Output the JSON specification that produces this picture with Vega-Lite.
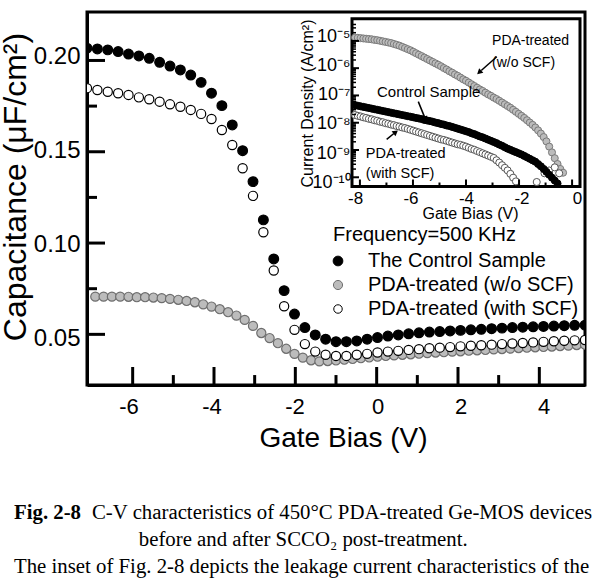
{
  "$schema": "https://vega.github.io/schema/vega-lite/v6.json",
  "width": 498,
  "height": 373,
  "autosize": {"type": "none"},
  "padding": {"left": 87, "top": 12, "right": 8, "bottom": 200},
  "background": "white",
  "config": {
    "view": {"stroke": "black", "strokeWidth": 3},
    "font": "Liberation Sans"
  },
  "title": {
    "text": "Fig. 2-8",
    "subtitle": [
      "\u200b\u00a0\u00a0\u00a0\u00a0\u00a0\u00a0\u00a0\u00a0\u00a0\u00a0\u00a0\u00a0\u00a0\u00a0\u00a0C-V characteristics of 450°C PDA-treated Ge-MOS devices",
      "\u200b\u00a0\u00a0\u00a0\u00a0\u00a0\u00a0\u00a0\u00a0\u00a0\u00a0\u00a0\u00a0\u00a0\u00a0\u00a0\u00a0\u00a0\u00a0\u00a0\u00a0\u00a0\u00a0\u00a0\u00a0before and after SCCO₂ post-treatment.",
      "The inset of Fig. 2-8 depicts the leakage current characteristics of the"
    ],
    "orient": "bottom", "anchor": "start", "frame": "group", "dx": -73, "offset": 51,
    "font": "Liberation Serif", "fontSize": 20.8, "fontWeight": "bold", "color": "black",
    "subtitleFont": "Liberation Serif", "subtitleFontSize": 20.8, "subtitleFontWeight": "normal",
    "subtitleColor": "black", "subtitleLineHeight": 27, "subtitlePadding": -21
  },
  "datasets": {
    "ticksV": [
      {"V": -6, "major": true}, {"V": -5, "major": false}, {"V": -4, "major": true}, {"V": -3, "major": false},
      {"V": -2, "major": true}, {"V": -1, "major": false}, {"V": 0, "major": true}, {"V": 1, "major": false},
      {"V": 2, "major": true}, {"V": 3, "major": false}, {"V": 4, "major": true}
    ],
    "ticksC": [
      {"C": 0.05, "major": true}, {"C": 0.075, "major": false}, {"C": 0.1, "major": true}, {"C": 0.125, "major": false},
      {"C": 0.15, "major": true}, {"C": 0.175, "major": false}, {"C": 0.2, "major": true}
    ],
    "ticksVi": [
      {"V": -8, "major": true}, {"V": -7, "major": false}, {"V": -6, "major": true}, {"V": -5, "major": false},
      {"V": -4, "major": true}, {"V": -3, "major": false}, {"V": -2, "major": true}, {"V": -1, "major": false}, {"V": 0, "major": true}
    ],
    "ticksJ": [
      {"J": 1e-10, "major": true}, {"J": 2e-10, "major": false}, {"J": 3e-10, "major": false}, {"J": 4e-10, "major": false}, {"J": 5e-10, "major": false}, {"J": 6e-10, "major": false}, {"J": 7e-10, "major": false}, {"J": 8e-10, "major": false}, {"J": 9e-10, "major": false},
      {"J": 1e-9, "major": true}, {"J": 2e-9, "major": false}, {"J": 3e-9, "major": false}, {"J": 4e-9, "major": false}, {"J": 5e-9, "major": false}, {"J": 6e-9, "major": false}, {"J": 7e-9, "major": false}, {"J": 8e-9, "major": false}, {"J": 9e-9, "major": false},
      {"J": 1e-8, "major": true}, {"J": 2e-8, "major": false}, {"J": 3e-8, "major": false}, {"J": 4e-8, "major": false}, {"J": 5e-8, "major": false}, {"J": 6e-8, "major": false}, {"J": 7e-8, "major": false}, {"J": 8e-8, "major": false}, {"J": 9e-8, "major": false},
      {"J": 1e-7, "major": true}, {"J": 2e-7, "major": false}, {"J": 3e-7, "major": false}, {"J": 4e-7, "major": false}, {"J": 5e-7, "major": false}, {"J": 6e-7, "major": false}, {"J": 7e-7, "major": false}, {"J": 8e-7, "major": false}, {"J": 9e-7, "major": false},
      {"J": 1e-6, "major": true}, {"J": 2e-6, "major": false}, {"J": 3e-6, "major": false}, {"J": 4e-6, "major": false}, {"J": 5e-6, "major": false}, {"J": 6e-6, "major": false}, {"J": 7e-6, "major": false}, {"J": 8e-6, "major": false}, {"J": 9e-6, "major": false},
      {"J": 1e-5, "major": true}, {"J": 2e-5, "major": false}, {"J": 3e-5, "major": false}, {"J": 4e-5, "major": false}
    ],
    "cv": [
      {"sample":"wo","V":-6.8,"C":0.0721},{"sample":"wo","V":-6.6,"C":0.0721},{"sample":"wo","V":-6.4,"C":0.0721},{"sample":"wo","V":-6.2,"C":0.0721},
      {"sample":"wo","V":-6.0,"C":0.0720},{"sample":"wo","V":-5.8,"C":0.0718},{"sample":"wo","V":-5.6,"C":0.0718},{"sample":"wo","V":-5.4,"C":0.0716},
      {"sample":"wo","V":-5.2,"C":0.0713},{"sample":"wo","V":-5.0,"C":0.0709},{"sample":"wo","V":-4.8,"C":0.0704},{"sample":"wo","V":-4.6,"C":0.0698},
      {"sample":"wo","V":-4.4,"C":0.0691},{"sample":"wo","V":-4.2,"C":0.0680},{"sample":"wo","V":-4.0,"C":0.0668},{"sample":"wo","V":-3.8,"C":0.0654},
      {"sample":"wo","V":-3.6,"C":0.0638},{"sample":"wo","V":-3.4,"C":0.0620},{"sample":"wo","V":-3.2,"C":0.0597},{"sample":"wo","V":-3.0,"C":0.0565},
      {"sample":"wo","V":-2.8,"C":0.0527},{"sample":"wo","V":-2.6,"C":0.0500},{"sample":"wo","V":-2.4,"C":0.0473},{"sample":"wo","V":-2.2,"C":0.0443},
      {"sample":"wo","V":-2.0,"C":0.0416},{"sample":"wo","V":-1.8,"C":0.0396},{"sample":"wo","V":-1.6,"C":0.0382},{"sample":"wo","V":-1.4,"C":0.0376},
      {"sample":"wo","V":-1.2,"C":0.0378},{"sample":"wo","V":-1.0,"C":0.0381},{"sample":"wo","V":-0.8,"C":0.0385},{"sample":"wo","V":-0.6,"C":0.0389},
      {"sample":"wo","V":-0.4,"C":0.0393},{"sample":"wo","V":-0.2,"C":0.0397},{"sample":"wo","V":0.0,"C":0.0401},{"sample":"wo","V":0.2,"C":0.0405},
      {"sample":"wo","V":0.4,"C":0.0408},{"sample":"wo","V":0.6,"C":0.0411},{"sample":"wo","V":0.8,"C":0.0414},{"sample":"wo","V":1.0,"C":0.0417},
      {"sample":"wo","V":1.2,"C":0.0420},{"sample":"wo","V":1.4,"C":0.0423},{"sample":"wo","V":1.6,"C":0.0425},{"sample":"wo","V":1.8,"C":0.0428},
      {"sample":"wo","V":2.0,"C":0.0430},{"sample":"wo","V":2.2,"C":0.0433},{"sample":"wo","V":2.4,"C":0.0435},{"sample":"wo","V":2.6,"C":0.0437},
      {"sample":"wo","V":2.8,"C":0.0440},{"sample":"wo","V":3.0,"C":0.0442},{"sample":"wo","V":3.2,"C":0.0444},{"sample":"wo","V":3.4,"C":0.0447},
      {"sample":"wo","V":3.6,"C":0.0449},{"sample":"wo","V":3.8,"C":0.0451},{"sample":"wo","V":4.0,"C":0.0453},{"sample":"wo","V":4.2,"C":0.0455},
      {"sample":"wo","V":4.4,"C":0.0458},{"sample":"wo","V":4.6,"C":0.0460},{"sample":"wo","V":4.8,"C":0.0463},{"sample":"wo","V":5.0,"C":0.0465},

      {"sample":"with","V":-7.0,"C":0.1832},{"sample":"with","V":-6.75,"C":0.1822},{"sample":"with","V":-6.5,"C":0.1813},{"sample":"with","V":-6.25,"C":0.1805},
      {"sample":"with","V":-6.0,"C":0.1796},{"sample":"with","V":-5.75,"C":0.1783},{"sample":"with","V":-5.5,"C":0.1773},{"sample":"with","V":-5.25,"C":0.1760},
      {"sample":"with","V":-5.0,"C":0.1746},{"sample":"with","V":-4.75,"C":0.1733},{"sample":"with","V":-4.5,"C":0.1716},{"sample":"with","V":-4.25,"C":0.1695},
      {"sample":"with","V":-4.0,"C":0.1668},{"sample":"with","V":-3.75,"C":0.1609},{"sample":"with","V":-3.5,"C":0.1529},{"sample":"with","V":-3.25,"C":0.1405},
      {"sample":"with","V":-3.0,"C":0.1258},{"sample":"with","V":-2.75,"C":0.1064},{"sample":"with","V":-2.5,"C":0.0860},{"sample":"with","V":-2.25,"C":0.0670},
      {"sample":"with","V":-2.0,"C":0.0544},{"sample":"with","V":-1.75,"C":0.0468},{"sample":"with","V":-1.5,"C":0.0428},{"sample":"with","V":-1.25,"C":0.0411},
      {"sample":"with","V":-1.0,"C":0.0405},{"sample":"with","V":-0.75,"C":0.0405},{"sample":"with","V":-0.5,"C":0.0411},{"sample":"with","V":-0.25,"C":0.0416},
      {"sample":"with","V":0.0,"C":0.0423},{"sample":"with","V":0.25,"C":0.0428},{"sample":"with","V":0.5,"C":0.0432},{"sample":"with","V":0.75,"C":0.0437},
      {"sample":"with","V":1.0,"C":0.0441},{"sample":"with","V":1.25,"C":0.0446},{"sample":"with","V":1.5,"C":0.0449},{"sample":"with","V":1.75,"C":0.0452},
      {"sample":"with","V":2.0,"C":0.0456},{"sample":"with","V":2.25,"C":0.0459},{"sample":"with","V":2.5,"C":0.0462},{"sample":"with","V":2.75,"C":0.0465},
      {"sample":"with","V":3.0,"C":0.0468},{"sample":"with","V":3.25,"C":0.0471},{"sample":"with","V":3.5,"C":0.0474},{"sample":"with","V":3.75,"C":0.0477},
      {"sample":"with","V":4.0,"C":0.0480},{"sample":"with","V":4.25,"C":0.0483},{"sample":"with","V":4.5,"C":0.0486},{"sample":"with","V":4.75,"C":0.0488},
      {"sample":"with","V":5.0,"C":0.0490},

      {"sample":"ctrl","V":-7.0,"C":0.2045},{"sample":"ctrl","V":-6.75,"C":0.2041},{"sample":"ctrl","V":-6.5,"C":0.2036},{"sample":"ctrl","V":-6.25,"C":0.2027},
      {"sample":"ctrl","V":-6.0,"C":0.2014},{"sample":"ctrl","V":-5.75,"C":0.2004},{"sample":"ctrl","V":-5.5,"C":0.1991},{"sample":"ctrl","V":-5.25,"C":0.1970},
      {"sample":"ctrl","V":-5.0,"C":0.1950},{"sample":"ctrl","V":-4.75,"C":0.1929},{"sample":"ctrl","V":-4.5,"C":0.1902},{"sample":"ctrl","V":-4.25,"C":0.1863},
      {"sample":"ctrl","V":-4.0,"C":0.1805},{"sample":"ctrl","V":-3.75,"C":0.1739},{"sample":"ctrl","V":-3.5,"C":0.1636},{"sample":"ctrl","V":-3.25,"C":0.1499},
      {"sample":"ctrl","V":-3.0,"C":0.1334},{"sample":"ctrl","V":-2.75,"C":0.1130},{"sample":"ctrl","V":-2.5,"C":0.0922},{"sample":"ctrl","V":-2.25,"C":0.0753},
      {"sample":"ctrl","V":-2.0,"C":0.0628},{"sample":"ctrl","V":-1.75,"C":0.0556},{"sample":"ctrl","V":-1.5,"C":0.0517},{"sample":"ctrl","V":-1.25,"C":0.0494},
      {"sample":"ctrl","V":-1.0,"C":0.0481},{"sample":"ctrl","V":-0.75,"C":0.0481},{"sample":"ctrl","V":-0.5,"C":0.0485},{"sample":"ctrl","V":-0.25,"C":0.0494},
      {"sample":"ctrl","V":0.0,"C":0.0503},{"sample":"ctrl","V":0.25,"C":0.0511},{"sample":"ctrl","V":0.5,"C":0.0517},{"sample":"ctrl","V":0.75,"C":0.0523},
      {"sample":"ctrl","V":1.0,"C":0.0528},{"sample":"ctrl","V":1.25,"C":0.0532},{"sample":"ctrl","V":1.5,"C":0.0535},{"sample":"ctrl","V":1.75,"C":0.0538},
      {"sample":"ctrl","V":2.0,"C":0.0541},{"sample":"ctrl","V":2.25,"C":0.0544},{"sample":"ctrl","V":2.5,"C":0.0547},{"sample":"ctrl","V":2.75,"C":0.0550},
      {"sample":"ctrl","V":3.0,"C":0.0553},{"sample":"ctrl","V":3.25,"C":0.0556},{"sample":"ctrl","V":3.5,"C":0.0558},{"sample":"ctrl","V":3.75,"C":0.0560},
      {"sample":"ctrl","V":4.0,"C":0.0562},{"sample":"ctrl","V":4.25,"C":0.0564},{"sample":"ctrl","V":4.5,"C":0.0566},{"sample":"ctrl","V":4.75,"C":0.0568},
      {"sample":"ctrl","V":5.0,"C":0.0569}
    ],
    "jv": [
      {"sample":"wo","V":-8.0,"J":9.55e-6},{"sample":"wo","V":-7.9,"J":9.33e-6},{"sample":"wo","V":-7.8,"J":9.12e-6},{"sample":"wo","V":-7.7,"J":8.91e-6},
      {"sample":"wo","V":-7.6,"J":8.71e-6},{"sample":"wo","V":-7.5,"J":8.51e-6},{"sample":"wo","V":-7.4,"J":8.32e-6},{"sample":"wo","V":-7.3,"J":7.94e-6},
      {"sample":"wo","V":-7.2,"J":7.76e-6},{"sample":"wo","V":-7.1,"J":7.41e-6},{"sample":"wo","V":-7.0,"J":7.08e-6},{"sample":"wo","V":-6.9,"J":6.76e-6},
      {"sample":"wo","V":-6.8,"J":6.46e-6},{"sample":"wo","V":-6.7,"J":6.17e-6},{"sample":"wo","V":-6.6,"J":5.75e-6},{"sample":"wo","V":-6.5,"J":5.37e-6},
      {"sample":"wo","V":-6.4,"J":5.01e-6},{"sample":"wo","V":-6.3,"J":4.57e-6},{"sample":"wo","V":-6.2,"J":4.17e-6},{"sample":"wo","V":-6.1,"J":3.80e-6},
      {"sample":"wo","V":-6.0,"J":3.47e-6},{"sample":"wo","V":-5.9,"J":3.09e-6},{"sample":"wo","V":-5.8,"J":2.75e-6},{"sample":"wo","V":-5.7,"J":2.45e-6},
      {"sample":"wo","V":-5.6,"J":2.19e-6},{"sample":"wo","V":-5.5,"J":1.95e-6},{"sample":"wo","V":-5.4,"J":1.74e-6},{"sample":"wo","V":-5.3,"J":1.55e-6},
      {"sample":"wo","V":-5.2,"J":1.38e-6},{"sample":"wo","V":-5.1,"J":1.23e-6},{"sample":"wo","V":-5.0,"J":1.10e-6},{"sample":"wo","V":-4.9,"J":9.77e-7},
      {"sample":"wo","V":-4.8,"J":8.51e-7},{"sample":"wo","V":-4.7,"J":7.59e-7},{"sample":"wo","V":-4.6,"J":6.61e-7},{"sample":"wo","V":-4.5,"J":5.89e-7},
      {"sample":"wo","V":-4.4,"J":5.13e-7},{"sample":"wo","V":-4.3,"J":4.57e-7},{"sample":"wo","V":-4.2,"J":3.98e-7},{"sample":"wo","V":-4.1,"J":3.47e-7},
      {"sample":"wo","V":-4.0,"J":3.09e-7},{"sample":"wo","V":-3.9,"J":2.69e-7},{"sample":"wo","V":-3.8,"J":2.34e-7},{"sample":"wo","V":-3.7,"J":2.04e-7},
      {"sample":"wo","V":-3.6,"J":1.78e-7},{"sample":"wo","V":-3.5,"J":1.55e-7},{"sample":"wo","V":-3.4,"J":1.38e-7},{"sample":"wo","V":-3.3,"J":1.20e-7},
      {"sample":"wo","V":-3.2,"J":1.05e-7},{"sample":"wo","V":-3.1,"J":9.33e-8},{"sample":"wo","V":-3.0,"J":8.13e-8},{"sample":"wo","V":-2.9,"J":7.24e-8},
      {"sample":"wo","V":-2.8,"J":6.31e-8},{"sample":"wo","V":-2.7,"J":5.50e-8},{"sample":"wo","V":-2.6,"J":4.79e-8},{"sample":"wo","V":-2.5,"J":4.17e-8},
      {"sample":"wo","V":-2.4,"J":3.63e-8},{"sample":"wo","V":-2.3,"J":3.09e-8},{"sample":"wo","V":-2.2,"J":2.63e-8},{"sample":"wo","V":-2.1,"J":2.24e-8},
      {"sample":"wo","V":-2.0,"J":1.91e-8},{"sample":"wo","V":-1.9,"J":1.62e-8},{"sample":"wo","V":-1.8,"J":1.35e-8},{"sample":"wo","V":-1.7,"J":1.12e-8},
      {"sample":"wo","V":-1.6,"J":9.33e-9},{"sample":"wo","V":-1.5,"J":7.59e-9},{"sample":"wo","V":-1.4,"J":6.03e-9},{"sample":"wo","V":-1.3,"J":4.68e-9},
      {"sample":"wo","V":-1.2,"J":3.55e-9},{"sample":"wo","V":-1.1,"J":2.51e-9},{"sample":"wo","V":-1.0,"J":1.66e-9},{"sample":"wo","V":-0.9,"J":1.05e-9},
      {"sample":"wo","V":-0.8,"J":6.61e-10},{"sample":"wo","V":-0.7,"J":4.17e-10},{"sample":"wo","V":-0.6,"J":2.82e-10},{"sample":"wo","V":-0.5,"J":2.09e-10},

      {"sample":"with","V":-8.0,"J":2.04e-8},{"sample":"with","V":-7.9,"J":1.91e-8},{"sample":"with","V":-7.8,"J":1.82e-8},{"sample":"with","V":-7.7,"J":1.70e-8},
      {"sample":"with","V":-7.6,"J":1.62e-8},{"sample":"with","V":-7.5,"J":1.51e-8},{"sample":"with","V":-7.4,"J":1.45e-8},{"sample":"with","V":-7.3,"J":1.35e-8},
      {"sample":"with","V":-7.2,"J":1.29e-8},{"sample":"with","V":-7.1,"J":1.20e-8},{"sample":"with","V":-7.0,"J":1.15e-8},{"sample":"with","V":-6.9,"J":1.07e-8},
      {"sample":"with","V":-6.8,"J":1.02e-8},{"sample":"with","V":-6.7,"J":9.55e-9},{"sample":"with","V":-6.6,"J":9.12e-9},{"sample":"with","V":-6.5,"J":8.51e-9},
      {"sample":"with","V":-6.4,"J":8.13e-9},{"sample":"with","V":-6.3,"J":7.59e-9},{"sample":"with","V":-6.2,"J":7.24e-9},{"sample":"with","V":-6.1,"J":6.76e-9},
      {"sample":"with","V":-6.0,"J":6.31e-9},{"sample":"with","V":-5.9,"J":5.89e-9},{"sample":"with","V":-5.8,"J":5.50e-9},{"sample":"with","V":-5.7,"J":5.13e-9},
      {"sample":"with","V":-5.6,"J":4.79e-9},{"sample":"with","V":-5.5,"J":4.47e-9},{"sample":"with","V":-5.4,"J":4.17e-9},{"sample":"with","V":-5.3,"J":3.89e-9},
      {"sample":"with","V":-5.2,"J":3.63e-9},{"sample":"with","V":-5.1,"J":3.39e-9},{"sample":"with","V":-5.0,"J":3.16e-9},{"sample":"with","V":-4.9,"J":2.95e-9},
      {"sample":"with","V":-4.8,"J":2.82e-9},{"sample":"with","V":-4.7,"J":2.63e-9},{"sample":"with","V":-4.6,"J":2.45e-9},{"sample":"with","V":-4.5,"J":2.29e-9},
      {"sample":"with","V":-4.4,"J":2.14e-9},{"sample":"with","V":-4.3,"J":2.00e-9},{"sample":"with","V":-4.2,"J":1.91e-9},{"sample":"with","V":-4.1,"J":1.78e-9},
      {"sample":"with","V":-4.0,"J":1.66e-9},{"sample":"with","V":-3.9,"J":1.51e-9},{"sample":"with","V":-3.8,"J":1.38e-9},{"sample":"with","V":-3.7,"J":1.29e-9},
      {"sample":"with","V":-3.6,"J":1.17e-9},{"sample":"with","V":-3.5,"J":1.07e-9},{"sample":"with","V":-3.4,"J":9.77e-10},{"sample":"with","V":-3.3,"J":8.91e-10},
      {"sample":"with","V":-3.2,"J":8.13e-10},{"sample":"with","V":-3.1,"J":7.41e-10},{"sample":"with","V":-3.0,"J":6.76e-10},{"sample":"with","V":-2.9,"J":5.62e-10},
      {"sample":"with","V":-2.8,"J":4.68e-10},{"sample":"with","V":-2.7,"J":3.80e-10},{"sample":"with","V":-2.6,"J":3.09e-10},{"sample":"with","V":-2.5,"J":2.51e-10},
      {"sample":"with","V":-2.4,"J":1.91e-10},{"sample":"with","V":-2.3,"J":1.41e-10},{"sample":"with","V":-2.2,"J":1.05e-10},
      {"sample":"with","V":-1.45,"J":1.0e-10},{"sample":"with","V":-1.17,"J":2.0e-10},{"sample":"with","V":-1.0,"J":2.5e-10},{"sample":"with","V":-0.8,"J":3.2e-10},{"sample":"with","V":-0.64,"J":2.0e-10},

      {"sample":"ctrl","V":-8.0,"J":4.47e-8},{"sample":"ctrl","V":-7.9,"J":4.27e-8},{"sample":"ctrl","V":-7.8,"J":4.07e-8},{"sample":"ctrl","V":-7.7,"J":3.89e-8},
      {"sample":"ctrl","V":-7.6,"J":3.72e-8},{"sample":"ctrl","V":-7.5,"J":3.55e-8},{"sample":"ctrl","V":-7.4,"J":3.39e-8},{"sample":"ctrl","V":-7.3,"J":3.24e-8},
      {"sample":"ctrl","V":-7.2,"J":3.09e-8},{"sample":"ctrl","V":-7.1,"J":2.95e-8},{"sample":"ctrl","V":-7.0,"J":2.82e-8},{"sample":"ctrl","V":-6.9,"J":2.69e-8},
      {"sample":"ctrl","V":-6.8,"J":2.57e-8},{"sample":"ctrl","V":-6.7,"J":2.45e-8},{"sample":"ctrl","V":-6.6,"J":2.34e-8},{"sample":"ctrl","V":-6.5,"J":2.24e-8},
      {"sample":"ctrl","V":-6.4,"J":2.14e-8},{"sample":"ctrl","V":-6.3,"J":2.04e-8},{"sample":"ctrl","V":-6.2,"J":1.95e-8},{"sample":"ctrl","V":-6.1,"J":1.86e-8},
      {"sample":"ctrl","V":-6.0,"J":1.78e-8},{"sample":"ctrl","V":-5.9,"J":1.70e-8},{"sample":"ctrl","V":-5.8,"J":1.62e-8},{"sample":"ctrl","V":-5.7,"J":1.55e-8},
      {"sample":"ctrl","V":-5.6,"J":1.48e-8},{"sample":"ctrl","V":-5.5,"J":1.38e-8},{"sample":"ctrl","V":-5.4,"J":1.32e-8},{"sample":"ctrl","V":-5.3,"J":1.26e-8},
      {"sample":"ctrl","V":-5.2,"J":1.20e-8},{"sample":"ctrl","V":-5.1,"J":1.12e-8},{"sample":"ctrl","V":-5.0,"J":1.07e-8},{"sample":"ctrl","V":-4.9,"J":1.00e-8},
      {"sample":"ctrl","V":-4.8,"J":9.55e-9},{"sample":"ctrl","V":-4.7,"J":8.91e-9},{"sample":"ctrl","V":-4.6,"J":8.51e-9},{"sample":"ctrl","V":-4.5,"J":7.94e-9},
      {"sample":"ctrl","V":-4.4,"J":7.41e-9},{"sample":"ctrl","V":-4.3,"J":6.92e-9},{"sample":"ctrl","V":-4.2,"J":6.46e-9},{"sample":"ctrl","V":-4.1,"J":6.03e-9},
      {"sample":"ctrl","V":-4.0,"J":5.62e-9},{"sample":"ctrl","V":-3.9,"J":5.25e-9},{"sample":"ctrl","V":-3.8,"J":4.79e-9},{"sample":"ctrl","V":-3.7,"J":4.47e-9},
      {"sample":"ctrl","V":-3.6,"J":4.07e-9},{"sample":"ctrl","V":-3.5,"J":3.72e-9},{"sample":"ctrl","V":-3.4,"J":3.47e-9},{"sample":"ctrl","V":-3.3,"J":3.16e-9},
      {"sample":"ctrl","V":-3.2,"J":2.88e-9},{"sample":"ctrl","V":-3.1,"J":2.63e-9},{"sample":"ctrl","V":-3.0,"J":2.40e-9},{"sample":"ctrl","V":-2.9,"J":2.19e-9},
      {"sample":"ctrl","V":-2.8,"J":1.95e-9},{"sample":"ctrl","V":-2.7,"J":1.78e-9},{"sample":"ctrl","V":-2.6,"J":1.58e-9},{"sample":"ctrl","V":-2.5,"J":1.41e-9},
      {"sample":"ctrl","V":-2.4,"J":1.29e-9},{"sample":"ctrl","V":-2.3,"J":1.17e-9},{"sample":"ctrl","V":-2.2,"J":1.07e-9},{"sample":"ctrl","V":-2.1,"J":9.77e-10},
      {"sample":"ctrl","V":-2.0,"J":8.91e-10},{"sample":"ctrl","V":-1.9,"J":7.94e-10},{"sample":"ctrl","V":-1.8,"J":7.08e-10},{"sample":"ctrl","V":-1.7,"J":6.31e-10},
      {"sample":"ctrl","V":-1.6,"J":5.62e-10},{"sample":"ctrl","V":-1.5,"J":5.01e-10},{"sample":"ctrl","V":-1.4,"J":4.17e-10},{"sample":"ctrl","V":-1.3,"J":3.47e-10},
      {"sample":"ctrl","V":-1.2,"J":2.82e-10},{"sample":"ctrl","V":-1.1,"J":2.24e-10},{"sample":"ctrl","V":-1.0,"J":1.78e-10},{"sample":"ctrl","V":-0.9,"J":1.41e-10},
      {"sample":"ctrl","V":-0.8,"J":1.12e-10},{"sample":"ctrl","V":-0.7,"J":8.91e-11}
    ]
  },
  "layer": [
    {
      "data": {"name": "cv"},
      "transform": [{"filter": "datum.sample == 'wo'"}],
      "mark": {"type": "point", "shape": "circle", "filled": true, "strokeWidth": 1.2, "opacity": 1, "clip": true},
      "encoding": {
        "x": {
          "field": "V", "type": "quantitative",
          "scale": {"domain": [-7, 5], "nice": false, "zero": false},
          "axis": {
            "orient": "bottom", "values": [-6, -4, -2, 0, 2, 4], "grid": false,
            "domainColor": "black", "domainWidth": 3,
            "ticks": true, "tickSize": 0,
            "labelFontSize": 22, "labelPadding": 11, "labelColor": "black", "labelFont": "Liberation Sans",
            "labelExpr": "'' + datum.value",
            "title": "Gate Bias (V)", "titleFontSize": 28, "titleFont": "Liberation Sans", "titleFontWeight": "normal", "titleColor": "black",
            "titleX": 256, "titleY": 53, "titleBaseline": "middle", "titleAlign": "center"
          }
        },
        "y": {
          "field": "C", "type": "quantitative",
          "scale": {"domain": [0.025, 0.2238], "nice": false, "zero": false},
          "axis": {
            "orient": "left", "values": [0.05, 0.1, 0.15, 0.2], "format": ".2f", "grid": false,
            "domainColor": "black", "domainWidth": 3,
            "ticks": true, "tickSize": 0,
            "labelFontSize": 24, "labelPadding": 7, "labelColor": "black", "labelFont": "Liberation Sans",
            "title": "Capacitance (μF/cm²)", "titleFontSize": 32, "titleFont": "Liberation Sans", "titleFontWeight": "normal", "titleColor": "black",
            "titleX": -62, "titleY": 174.5, "titleAngle": -90, "titleAlign": "center", "titleBaseline": "alphabetic"
          }
        },
        "fill": {
          "field": "sample", "type": "nominal",
          "scale": {"domain": ["ctrl", "wo", "with"], "range": ["black", "#bcbcbc", "white"]},
          "legend": {
            "orient": "none", "legendX": 246, "legendY": 213, "padding": 0,
            "title": "Frequency=500 KHz", "titleFontSize": 20, "titleFontWeight": "normal", "titleColor": "black",
            "titleFont": "Liberation Sans", "titlePadding": 6, "titleLimit": 400,
            "labelFontSize": 20, "labelColor": "black", "labelFont": "Liberation Sans", "labelLimit": 400,
            "labelExpr": "datum.label == 'ctrl' ? 'The Control Sample' : datum.label == 'wo' ? 'PDA-treated (w/o SCF)' : 'PDA-treated (with SCF)'",
            "labelOffset": 20, "rowPadding": 4, "symbolType": "circle", "symbolSize": 85, "symbolStrokeWidth": 1, "symbolOffset": -5
          }
        },
        "stroke": {
          "field": "sample", "type": "nominal",
          "scale": {"domain": ["ctrl", "wo", "with"], "range": ["black", "#6e6e6e", "black"]}
        },
        "size": {
          "field": "sample", "type": "nominal",
          "scale": {"domain": ["ctrl", "wo", "with"], "range": [95, 72, 85]}
        }
      }
    },
    {
      "data": {"name": "cv"},
      "transform": [{"filter": "datum.sample == 'with'"}],
      "mark": {"type": "point", "shape": "circle", "filled": true, "size": 85, "fill": "white", "stroke": "black", "strokeWidth": 1.2, "opacity": 1, "clip": true},
      "encoding": {
        "x": {"field": "V", "type": "quantitative", "scale": {"domain": [-7, 5], "nice": false, "zero": false}, "axis": null},
        "y": {"field": "C", "type": "quantitative", "scale": {"domain": [0.025, 0.2238], "nice": false, "zero": false}, "axis": null}
      }
    },
    {
      "data": {"name": "cv"},
      "transform": [{"filter": "datum.sample == 'ctrl'"}],
      "mark": {"type": "point", "shape": "circle", "filled": true, "size": 95, "fill": "black", "stroke": "black", "strokeWidth": 1.2, "opacity": 1, "clip": true},
      "encoding": {
        "x": {"field": "V", "type": "quantitative", "scale": {"domain": [-7, 5], "nice": false, "zero": false}, "axis": null},
        "y": {"field": "C", "type": "quantitative", "scale": {"domain": [0.025, 0.2238], "nice": false, "zero": false}, "axis": null}
      }
    },
    {
      "data": {"name": "ticksV"},
      "transform": [{"filter": "datum.major"}],
      "mark": {"type": "bar", "size": 3, "color": "black", "opacity": 1},
      "encoding": {
        "x": {"field": "V", "type": "quantitative", "scale": {"domain": [-7, 5], "nice": false, "zero": false}, "axis": null},
        "y": {"datum": 0.025, "type": "quantitative", "scale": {"domain": [0.025, 0.2238], "nice": false, "zero": false}, "axis": null},
        "y2": {"datum": 0.0346}
      }
    },
    {
      "data": {"name": "ticksV"},
      "transform": [{"filter": "!datum.major"}],
      "mark": {"type": "bar", "size": 3, "color": "black", "opacity": 1},
      "encoding": {
        "x": {"field": "V", "type": "quantitative", "scale": {"domain": [-7, 5], "nice": false, "zero": false}, "axis": null},
        "y": {"datum": 0.025, "type": "quantitative", "scale": {"domain": [0.025, 0.2238], "nice": false, "zero": false}, "axis": null},
        "y2": {"datum": 0.0303}
      }
    },
    {
      "data": {"name": "ticksC"},
      "transform": [{"filter": "datum.major"}],
      "mark": {"type": "bar", "size": 3, "color": "black", "opacity": 1, "orient": "horizontal"},
      "encoding": {
        "y": {"field": "C", "type": "quantitative", "scale": {"domain": [0.025, 0.2238], "nice": false, "zero": false}, "axis": null},
        "x": {"datum": -7, "type": "quantitative", "scale": {"domain": [-7, 5], "nice": false, "zero": false}, "axis": null},
        "x2": {"datum": -6.566}
      }
    },
    {
      "data": {"name": "ticksC"},
      "transform": [{"filter": "!datum.major"}],
      "mark": {"type": "bar", "size": 3, "color": "black", "opacity": 1, "orient": "horizontal"},
      "encoding": {
        "y": {"field": "C", "type": "quantitative", "scale": {"domain": [0.025, 0.2238], "nice": false, "zero": false}, "axis": null},
        "x": {"datum": -7, "type": "quantitative", "scale": {"domain": [-7, 5], "nice": false, "zero": false}, "axis": null},
        "x2": {"datum": -6.759}
      }
    },
    {
      "data": {"values": [{}]},
      "mark": {"type": "rect", "fill": "white", "stroke": "black", "strokeWidth": 3},
      "encoding": {
        "x": {"datum": -8.11, "type": "quantitative", "scale": {"type": "linear", "domain": [-8.11, 0.11], "range": [265, 493], "nice": false, "zero": false}, "axis": null},
        "x2": {"datum": 0.11},
        "y": {"datum": 7e-11, "type": "quantitative", "scale": {"type": "log", "domain": [7e-11, 4.27e-5], "range": [174.5, 6.7], "nice": false}, "axis": null},
        "y2": {"datum": 4.27e-5}
      }
    },
    {
      "data": {"name": "jv"},
      "transform": [{"filter": "datum.sample == 'wo'"}],
      "mark": {"type": "point", "shape": "circle", "filled": true, "size": 50, "fill": "#bcbcbc", "stroke": "#7a7a7a", "strokeWidth": 1, "opacity": 1},
      "encoding": {
        "x": {
          "field": "V", "type": "quantitative",
          "scale": {"type": "linear", "domain": [-8.11, 0.11], "range": [265, 493], "nice": false, "zero": false},
          "axis": {
            "orient": "bottom", "offset": -198.5, "values": [-8, -6, -4, -2, 0], "grid": false, "zindex": 1,
            "labelExpr": "'' + datum.value", "domain": false,
            "ticks": true, "tickSize": 0,
            "labelFontSize": 17, "labelPadding": 4, "labelColor": "black", "labelFont": "Liberation Sans",
            "title": "Gate Bias (V)", "titleFontSize": 16, "titleFont": "Liberation Sans", "titleFontWeight": "normal", "titleColor": "black",
            "titleX": 383, "titleY": 26.5, "titleBaseline": "middle", "titleAlign": "center"
          }
        },
        "y": {
          "field": "J", "type": "quantitative",
          "scale": {"type": "log", "domain": [7e-11, 4.27e-5], "range": [174.5, 6.7], "nice": false},
          "axis": {
            "orient": "left", "offset": -265, "domain": false, "grid": false, "zindex": 1,
            "values": [1e-10, 1e-9, 1e-8, 1e-7, 1e-6, 1e-5],
            "labelExpr": "'10' + replace(replace(replace(replace(replace(replace(replace(replace('' + round(log(datum.value) / LN10), '-', '⁻'), '0', '⁰'), '1', '¹'), '5', '⁵'), '6', '⁶'), '7', '⁷'), '8', '⁸'), '9', '⁹')",
            "ticks": true, "tickSize": 0,
            "labelFontSize": 18, "labelPadding": 2, "labelColor": "black", "labelFont": "Liberation Sans",
            "title": "Current Density (A/cm²)", "titleFontSize": 16, "titleFont": "Liberation Sans", "titleFontWeight": "normal", "titleColor": "black",
            "titleX": -40, "titleY": 91, "titleAngle": -90, "titleAlign": "center", "titleBaseline": "alphabetic"
          }
        }
      }
    },
    {
      "data": {"name": "jv"},
      "transform": [{"filter": "datum.sample == 'with'"}],
      "mark": {"type": "point", "shape": "circle", "filled": true, "size": 50, "fill": "white", "stroke": "#555555", "strokeWidth": 1, "opacity": 1},
      "encoding": {
        "x": {"field": "V", "type": "quantitative", "scale": {"type": "linear", "domain": [-8.11, 0.11], "range": [265, 493], "nice": false, "zero": false}, "axis": null},
        "y": {"field": "J", "type": "quantitative", "scale": {"type": "log", "domain": [7e-11, 4.27e-5], "range": [174.5, 6.7], "nice": false}, "axis": null}
      }
    },
    {
      "data": {"name": "jv"},
      "transform": [{"filter": "datum.sample == 'ctrl'"}],
      "mark": {"type": "point", "shape": "circle", "filled": true, "size": 50, "fill": "black", "stroke": "black", "strokeWidth": 1, "opacity": 1},
      "encoding": {
        "x": {"field": "V", "type": "quantitative", "scale": {"type": "linear", "domain": [-8.11, 0.11], "range": [265, 493], "nice": false, "zero": false}, "axis": null},
        "y": {"field": "J", "type": "quantitative", "scale": {"type": "log", "domain": [7e-11, 4.27e-5], "range": [174.5, 6.7], "nice": false}, "axis": null}
      }
    },
    {
      "data": {"name": "ticksVi"},
      "transform": [{"filter": "datum.major"}],
      "mark": {"type": "bar", "size": 2, "color": "black", "opacity": 1},
      "encoding": {
        "x": {"field": "V", "type": "quantitative", "scale": {"type": "linear", "domain": [-8.11, 0.11], "range": [265, 493], "nice": false, "zero": false}, "axis": null},
        "y": {"datum": 7e-11, "type": "quantitative", "scale": {"type": "log", "domain": [7e-11, 4.27e-5], "range": [174.5, 6.7], "nice": false}, "axis": null},
        "y2": {"datum": 1.22e-10}
      }
    },
    {
      "data": {"name": "ticksVi"},
      "transform": [{"filter": "!datum.major"}],
      "mark": {"type": "bar", "size": 2, "color": "black", "opacity": 1},
      "encoding": {
        "x": {"field": "V", "type": "quantitative", "scale": {"type": "linear", "domain": [-8.11, 0.11], "range": [265, 493], "nice": false, "zero": false}, "axis": null},
        "y": {"datum": 7e-11, "type": "quantitative", "scale": {"type": "log", "domain": [7e-11, 4.27e-5], "range": [174.5, 6.7], "nice": false}, "axis": null},
        "y2": {"datum": 9.6e-11}
      }
    },
    {
      "data": {"name": "ticksJ"},
      "transform": [{"filter": "datum.major"}],
      "mark": {"type": "bar", "size": 2, "color": "black", "opacity": 1, "orient": "horizontal"},
      "encoding": {
        "y": {"field": "J", "type": "quantitative", "scale": {"type": "log", "domain": [7e-11, 4.27e-5], "range": [174.5, 6.7], "nice": false}, "axis": null},
        "x": {"datum": -8.11, "type": "quantitative", "scale": {"type": "linear", "domain": [-8.11, 0.11], "range": [265, 493], "nice": false, "zero": false}, "axis": null},
        "x2": {"datum": -7.858}
      }
    },
    {
      "data": {"name": "ticksJ"},
      "transform": [{"filter": "!datum.major"}],
      "mark": {"type": "bar", "size": 1.5, "color": "black", "opacity": 1, "orient": "horizontal"},
      "encoding": {
        "y": {"field": "J", "type": "quantitative", "scale": {"type": "log", "domain": [7e-11, 4.27e-5], "range": [174.5, 6.7], "nice": false}, "axis": null},
        "x": {"datum": -8.11, "type": "quantitative", "scale": {"type": "linear", "domain": [-8.11, 0.11], "range": [265, 493], "nice": false, "zero": false}, "axis": null},
        "x2": {"datum": -7.966}
      }
    },
    {
      "data": {"values": [{}]},
      "mark": {"type": "text", "text": ["PDA-treated", "(w/o SCF)"], "align": "left", "baseline": "alphabetic", "fontSize": 14, "lineHeight": 22, "color": "black"},
      "encoding": {
        "x": {"datum": -3.06, "type": "quantitative", "scale": {"type": "linear", "domain": [-8.11, 0.11], "range": [265, 493], "nice": false, "zero": false}, "axis": null},
        "y": {"datum": 5.3e-6, "type": "quantitative", "scale": {"type": "log", "domain": [7e-11, 4.27e-5], "range": [174.5, 6.7], "nice": false}, "axis": null}
      }
    },
    {
      "data": {"values": [{}]},
      "mark": {"type": "text", "text": "Control Sample", "align": "left", "baseline": "alphabetic", "fontSize": 15, "color": "black"},
      "encoding": {
        "x": {"datum": -7.21, "type": "quantitative", "scale": {"type": "linear", "domain": [-8.11, 0.11], "range": [265, 493], "nice": false, "zero": false}, "axis": null},
        "y": {"datum": 8.2e-8, "type": "quantitative", "scale": {"type": "log", "domain": [7e-11, 4.27e-5], "range": [174.5, 6.7], "nice": false}, "axis": null}
      }
    },
    {
      "data": {"values": [{}]},
      "mark": {"type": "text", "text": ["PDA-treated", "(with SCF)"], "align": "left", "baseline": "alphabetic", "fontSize": 14.5, "lineHeight": 20, "color": "black"},
      "encoding": {
        "x": {"datum": -7.61, "type": "quantitative", "scale": {"type": "linear", "domain": [-8.11, 0.11], "range": [265, 493], "nice": false, "zero": false}, "axis": null},
        "y": {"datum": 6.7e-10, "type": "quantitative", "scale": {"type": "log", "domain": [7e-11, 4.27e-5], "range": [174.5, 6.7], "nice": false}, "axis": null}
      }
    },
    {
      "data": {"values": [{}]},
      "mark": {"type": "rule", "strokeWidth": 1.5, "color": "black"},
      "encoding": {
        "x": {"datum": -2.89, "type": "quantitative", "scale": {"type": "linear", "domain": [-8.11, 0.11], "range": [265, 493], "nice": false, "zero": false}, "axis": null},
        "y": {"datum": 2.09e-6, "type": "quantitative", "scale": {"type": "log", "domain": [7e-11, 4.27e-5], "range": [174.5, 6.7], "nice": false}, "axis": null},
        "x2": {"datum": -3.45},
        "y2": {"datum": 7.0e-7}
      }
    },
    {
      "data": {"values": [{}]},
      "mark": {"type": "point", "shape": "triangle", "filled": true, "size": 40, "angle": 228, "color": "black", "opacity": 1},
      "encoding": {
        "x": {"datum": -3.5, "type": "quantitative", "scale": {"type": "linear", "domain": [-8.11, 0.11], "range": [265, 493], "nice": false, "zero": false}, "axis": null},
        "y": {"datum": 6.35e-7, "type": "quantitative", "scale": {"type": "log", "domain": [7e-11, 4.27e-5], "range": [174.5, 6.7], "nice": false}, "axis": null}
      }
    },
    {
      "data": {"values": [{}]},
      "mark": {"type": "rule", "strokeWidth": 1.5, "color": "black"},
      "encoding": {
        "x": {"datum": -5.72, "type": "quantitative", "scale": {"type": "linear", "domain": [-8.11, 0.11], "range": [265, 493], "nice": false, "zero": false}, "axis": null},
        "y": {"datum": 5.9e-8, "type": "quantitative", "scale": {"type": "log", "domain": [7e-11, 4.27e-5], "range": [174.5, 6.7], "nice": false}, "axis": null},
        "x2": {"datum": -5.5},
        "y2": {"datum": 1.8e-8}
      }
    },
    {
      "data": {"values": [{}]},
      "mark": {"type": "point", "shape": "triangle", "filled": true, "size": 40, "angle": 158, "color": "black", "opacity": 1},
      "encoding": {
        "x": {"datum": -5.48, "type": "quantitative", "scale": {"type": "linear", "domain": [-8.11, 0.11], "range": [265, 493], "nice": false, "zero": false}, "axis": null},
        "y": {"datum": 1.57e-8, "type": "quantitative", "scale": {"type": "log", "domain": [7e-11, 4.27e-5], "range": [174.5, 6.7], "nice": false}, "axis": null}
      }
    },
    {
      "data": {"values": [{}]},
      "mark": {"type": "rule", "strokeWidth": 1.5, "color": "black"},
      "encoding": {
        "x": {"datum": -6.86, "type": "quantitative", "scale": {"type": "linear", "domain": [-8.11, 0.11], "range": [265, 493], "nice": false, "zero": false}, "axis": null},
        "y": {"datum": 2.96e-9, "type": "quantitative", "scale": {"type": "log", "domain": [7e-11, 4.27e-5], "range": [174.5, 6.7], "nice": false}, "axis": null},
        "x2": {"datum": -6.6},
        "y2": {"datum": 4.7e-9}
      }
    },
    {
      "data": {"values": [{}]},
      "mark": {"type": "point", "shape": "triangle", "filled": true, "size": 40, "angle": 52, "color": "black", "opacity": 1},
      "encoding": {
        "x": {"datum": -6.56, "type": "quantitative", "scale": {"type": "linear", "domain": [-8.11, 0.11], "range": [265, 493], "nice": false, "zero": false}, "axis": null},
        "y": {"datum": 5.0e-9, "type": "quantitative", "scale": {"type": "log", "domain": [7e-11, 4.27e-5], "range": [174.5, 6.7], "nice": false}, "axis": null}
      }
    }
  ],
  "resolve": {
    "scale": {"x": "independent", "y": "independent", "fill": "independent", "stroke": "independent", "size": "independent"},
    "axis": {"x": "independent", "y": "independent"},
    "legend": {"fill": "independent", "stroke": "independent", "size": "independent"}
  }
}
